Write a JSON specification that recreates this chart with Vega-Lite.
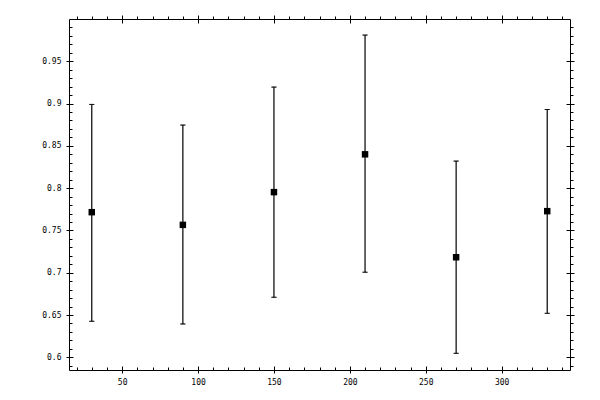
{
  "$schema": "https://vega.github.io/schema/vega-lite/v6.json",
  "width": 501,
  "height": 351,
  "autosize": "none",
  "padding": {"left": 69, "top": 19, "right": 30, "bottom": 30},
  "background": "white",
  "config": {
    "view": {"stroke": "black", "strokeWidth": 1},
    "axis": {
      "grid": false,
      "domain": false,
      "tickColor": "black",
      "tickWidth": 1,
      "labelFont": "DejaVu Sans Mono",
      "labelFontSize": 8,
      "labelColor": "black",
      "title": null
    }
  },
  "data": {
    "values": [
      {"x": 30, "y": 0.7716, "lo": 0.6426, "hi": 0.899},
      {"x": 90, "y": 0.7566, "lo": 0.6394, "hi": 0.8746},
      {"x": 150, "y": 0.7953, "lo": 0.671, "hi": 0.9195},
      {"x": 210, "y": 0.840, "lo": 0.7006, "hi": 0.981},
      {"x": 270, "y": 0.7183, "lo": 0.6047, "hi": 0.832},
      {"x": 330, "y": 0.7728, "lo": 0.652, "hi": 0.893}
    ]
  },
  "layer": [
    {
      "mark": {"type": "rule", "color": "black", "strokeWidth": 1.2},
      "encoding": {
        "x": {"field": "x", "type": "quantitative",
              "scale": {"domain": [15, 345], "nice": false, "zero": false},
              "axis": {"orient": "bottom", "values": [50, 100, 150, 200, 250, 300], "tickSize": -4, "labelPadding": 12, "labelFlush": false}},
        "y": {"field": "lo", "type": "quantitative",
              "scale": {"domain": [0.585, 1.0], "nice": false, "zero": false},
              "axis": {"orient": "left", "values": [0.6, 0.65, 0.7, 0.75, 0.8, 0.85, 0.9, 0.95], "tickSize": -4, "labelPadding": 12, "labelFlush": false, "labelExpr": "datum.value == 0.6 ? '0.6' : datum.value == 0.7 ? '0.7' : datum.value == 0.8 ? '0.8' : datum.value == 0.9 ? '0.9' : datum.label"}},
        "y2": {"field": "hi"}
      }
    },
    {
      "mark": {"type": "tick", "color": "black", "orient": "horizontal", "size": 5, "thickness": 1},
      "encoding": {
        "x": {"field": "x", "type": "quantitative",
              "axis": {"orient": "top", "values": [50, 100, 150, 200, 250, 300], "tickSize": 4, "labels": false}},
        "y": {"field": "hi", "type": "quantitative",
              "axis": {"orient": "right", "values": [0.6, 0.65, 0.7, 0.75, 0.8, 0.85, 0.9, 0.95], "tickSize": 4, "labels": false}}
      }
    },
    {
      "mark": {"type": "tick", "color": "black", "orient": "horizontal", "size": 5, "thickness": 1},
      "encoding": {
        "x": {"field": "x", "type": "quantitative",
              "axis": {"orient": "bottom", "values": [20, 30, 40, 60, 70, 80, 90, 110, 120, 130, 140, 160, 170, 180, 190, 210, 220, 230, 240, 260, 270, 280, 290, 310, 320, 330, 340], "tickSize": -3, "labels": false}},
        "y": {"field": "lo", "type": "quantitative",
              "axis": {"orient": "left", "values": [0.59, 0.61, 0.62, 0.63, 0.64, 0.66, 0.67, 0.68, 0.69, 0.71, 0.72, 0.73, 0.74, 0.76, 0.77, 0.78, 0.79, 0.81, 0.82, 0.83, 0.84, 0.86, 0.87, 0.88, 0.89, 0.91, 0.92, 0.93, 0.94, 0.96, 0.97, 0.98, 0.99], "tickSize": -3, "labels": false}}
      }
    },
    {
      "mark": {"type": "point", "shape": "square", "filled": true, "color": "black", "opacity": 1, "size": 42},
      "encoding": {
        "x": {"field": "x", "type": "quantitative",
              "axis": {"orient": "top", "values": [20, 30, 40, 60, 70, 80, 90, 110, 120, 130, 140, 160, 170, 180, 190, 210, 220, 230, 240, 260, 270, 280, 290, 310, 320, 330, 340], "tickSize": 3, "labels": false}},
        "y": {"field": "y", "type": "quantitative",
              "axis": {"orient": "right", "values": [0.59, 0.61, 0.62, 0.63, 0.64, 0.66, 0.67, 0.68, 0.69, 0.71, 0.72, 0.73, 0.74, 0.76, 0.77, 0.78, 0.79, 0.81, 0.82, 0.83, 0.84, 0.86, 0.87, 0.88, 0.89, 0.91, 0.92, 0.93, 0.94, 0.96, 0.97, 0.98, 0.99], "tickSize": 3, "labels": false}}
      }
    },
    {
      "mark": {"type": "tick", "color": "black", "orient": "horizontal", "size": 5, "thickness": 1},
      "encoding": {
        "x": {"field": "x", "type": "quantitative",
              "axis": {"orient": "bottom", "values": [50, 100, 150, 200, 250, 300], "tickSize": 3, "labels": false}},
        "y": {"field": "lo", "type": "quantitative",
              "axis": {"orient": "left", "values": [0.6, 0.65, 0.7, 0.75, 0.8, 0.85, 0.9, 0.95], "tickSize": 3, "labels": false}}
      }
    },
    {
      "mark": {"type": "tick", "color": "black", "orient": "horizontal", "size": 5, "thickness": 1},
      "encoding": {
        "x": {"field": "x", "type": "quantitative",
              "axis": {"orient": "top", "values": [50, 100, 150, 200, 250, 300], "tickSize": -4, "labels": false}},
        "y": {"field": "hi", "type": "quantitative",
              "axis": {"orient": "right", "values": [0.6, 0.65, 0.7, 0.75, 0.8, 0.85, 0.9, 0.95], "tickSize": -4, "labels": false}}
      }
    }
  ],
  "resolve": {"axis": {"x": "independent", "y": "independent"}}
}
